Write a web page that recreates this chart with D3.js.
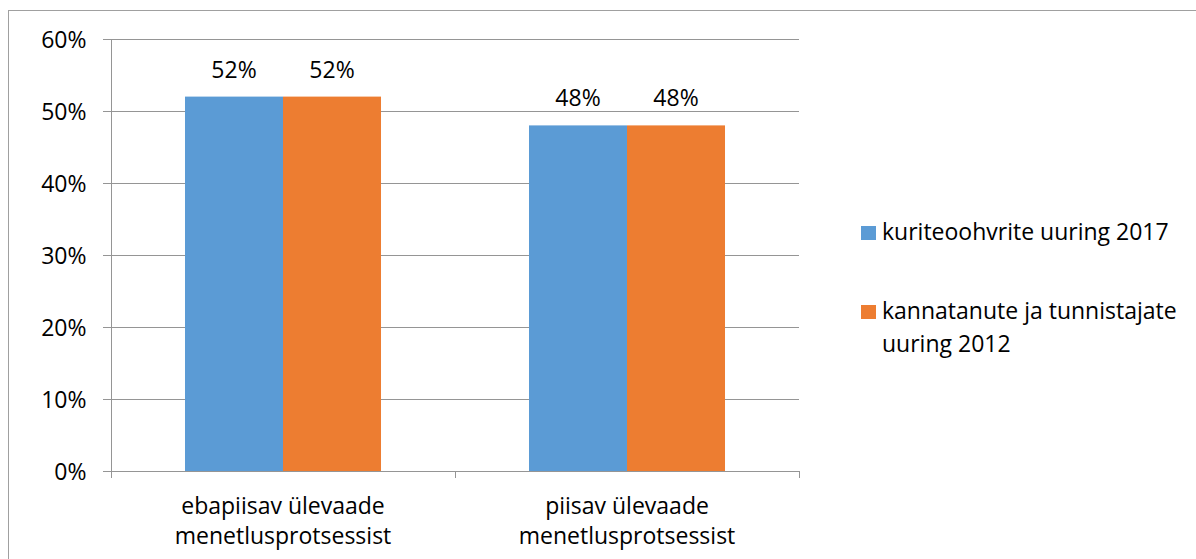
<!DOCTYPE html>
<html lang="en">
<head>
<meta charset="utf-8">
<title>Ülevaade menetlusprotsessist</title>
<script src="https://d3js.org/d3.v7.min.js"></script>
<style>
  body { margin: 0; background: #fff; font-family: "Open Sans", sans-serif; }
  svg text { fill: #000; font-size: 23px; font-family: "Open Sans", sans-serif; }
  .grid line { stroke: #959595; stroke-width: 1; shape-rendering: crispEdges; }
  .axis path, .axis line { stroke: #959595; shape-rendering: crispEdges; }
</style>
</head>
<body>
<div id="vis"></div>
<script>

// Data
var categories = [["ebapiisav ülevaade", "menetlusprotsessist"], ["piisav ülevaade", "menetlusprotsessist"]];
var seriesNames = [["kuriteoohvrite uuring 2017"], ["kannatanute ja tunnistajate", "uuring 2012"]];
var values2017 = [0.52, 0.48];
var values2012 = [0.52, 0.48];
var yTicks = [0, 0.1, 0.2, 0.3, 0.4, 0.5, 0.6];
var colors = ["#5B9BD5", "#ED7D31"];

var W = 1196, H = 559;
var plot = { left: 111, right: 799, top: 39, bottom: 471 };

var svg = d3.select("#vis").append("svg")
    .attr("width", W)
    .attr("height", H);

// outer chart frame (runs off the right and bottom edge)
svg.append("rect")
    .attr("x", 8.5).attr("y", 10.5)
    .attr("width", W + 10).attr("height", H + 10)
    .attr("fill", "none")
    .attr("stroke", "#A0A0A0")
    .attr("stroke-width", 1);

var x0 = d3.scaleBand()
    .domain(d3.range(categories.length))
    .range([plot.left, plot.right])
    .paddingInner(0)
    .paddingOuter(0);

var x1 = d3.scaleBand()
    .domain([0, 1])
    .range([0, x0.bandwidth()])
    .paddingInner(0)
    .paddingOuter(0.755);

var y = d3.scaleLinear()
    .domain([0, 0.6])
    .range([plot.bottom, plot.top]);

// gridlines incl. the tick stubs left of the axis
svg.append("g").attr("class", "grid")
  .selectAll("line")
  .data(yTicks).enter()
  .append("line")
    .attr("x1", plot.left - 8)
    .attr("x2", plot.right)
    .attr("y1", function(d) { return Math.round(y(d)) + 0.5; })
    .attr("y2", function(d) { return Math.round(y(d)) + 0.5; });

// y axis
var yAxis = d3.axisLeft(y)
    .tickValues(yTicks)
    .tickSize(8)
    .tickPadding(17)
    .tickFormat(d3.format(".0%"));

var yG = svg.append("g").attr("class", "axis")
    .attr("transform", "translate(" + (plot.left + 0.5) + ",0)")
    .call(yAxis);
yG.attr("font-family", null).attr("font-size", null);
yG.select(".domain").remove();
yG.selectAll("text").attr("dy", "0.36em");
svg.append("line")
    .attr("x1", plot.left + 0.5).attr("x2", plot.left + 0.5)
    .attr("y1", plot.top).attr("y2", plot.bottom + 7)
    .attr("stroke", "#959595");

// category ticks below the x axis
var catEdges = d3.range(categories.length + 1).map(function(i) {
  return i < categories.length ? x0(i) : x0(i - 1) + x0.bandwidth();
});
svg.append("g").selectAll("line")
  .data(catEdges).enter()
  .append("line")
    .attr("x1", function(d) { return Math.round(d) + 0.5; })
    .attr("x2", function(d) { return Math.round(d) + 0.5; })
    .attr("y1", plot.bottom)
    .attr("y2", plot.bottom + 7)
    .attr("stroke", "#959595");

// bars
var series = [values2017, values2012];
var groups = svg.append("g").selectAll("g")
  .data(categories).enter()
  .append("g")
    .attr("transform", function(d, i) { return "translate(" + x0(i) + ",0)"; });

groups.selectAll("rect")
  .data(function(d, i) { return series.map(function(s, j) { return { s: j, v: s[i] }; }); })
  .enter().append("rect")
    .attr("x", function(d) { return x1(d.s); })
    .attr("y", function(d) { return y(d.v); })
    .attr("width", x1.bandwidth())
    .attr("height", function(d) { return y(0) - y(d.v); })
    .attr("fill", function(d) { return colors[d.s]; });

groups.selectAll("text.val")
  .data(function(d, i) { return series.map(function(s, j) { return { s: j, v: s[i] }; }); })
  .enter().append("text")
    .attr("class", "val")
    .attr("x", function(d) { return x1(d.s) + x1.bandwidth() / 2; })
    .attr("y", function(d) { return y(d.v) - 19; })
    .attr("text-anchor", "middle")
    .text(function(d) { return d3.format(".0%")(d.v); });

// redraw x axis baseline over bars
svg.append("line")
    .attr("x1", plot.left - 8).attr("x2", plot.right)
    .attr("y1", plot.bottom + 0.5).attr("y2", plot.bottom + 0.5)
    .attr("stroke", "#959595");

// category labels
svg.append("g").selectAll("text")
  .data(categories).enter()
  .append("text")
    .attr("text-anchor", "middle")
    .attr("transform", function(d, i) { return "translate(" + (x0(i) + x0.bandwidth() / 2) + "," + 514 + ")"; })
  .selectAll("tspan")
  .data(function(d) { return d; }).enter()
  .append("tspan")
    .attr("x", 0)
    .attr("y", function(d, i) { return i * 30; })
    .text(function(d) { return d; });

// legend
var legendY = [240, 319];
var legend = svg.append("g").selectAll("g")
  .data(seriesNames).enter()
  .append("g")
    .attr("transform", function(d, i) { return "translate(861," + legendY[i] + ")"; });

legend.append("rect")
    .attr("x", 0).attr("y", -14)
    .attr("width", 15).attr("height", 14)
    .attr("fill", function(d, i) { return colors[i]; });

legend.append("text")
  .selectAll("tspan")
  .data(function(d) { return d; }).enter()
  .append("tspan")
    .attr("x", 21)
    .attr("y", function(d, i) { return i * 33; })
    .text(function(d) { return d; });

</script>
</body>
</html>
